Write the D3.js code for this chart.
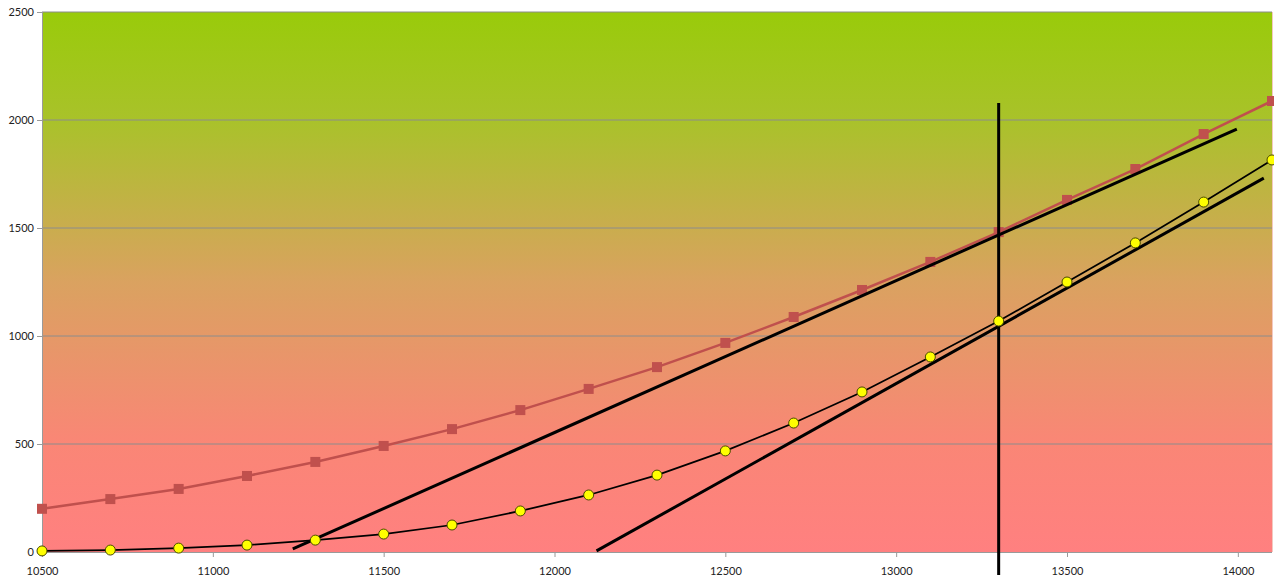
<!DOCTYPE html>
<html>
<head>
<meta charset="utf-8">
<script src="https://cdn.jsdelivr.net/npm/d3@7"></script>
<style>
  html, body { margin: 0; padding: 0; background: #fff; }
  svg text { font-family: Lato, "Open Sans", sans-serif; font-size: 11px; fill: #222; }
</style>
</head>
<body>
<svg id="chart" width="1274" height="581"></svg>
<script>
// Load levels (x) and the two measured series
const xValues = [10500, 10700, 10900, 11100, 11300, 11500, 11700, 11900, 12100, 12300,
                 12500, 12700, 12900, 13100, 13300, 13500, 13700, 13900, 14100];
const upperSeries = [200, 245, 292, 352, 417, 491, 569, 657, 755, 856,
                     968, 1088, 1213, 1343, 1481, 1630, 1773, 1935, 2088];
const lowerSeries = [5, 9, 18, 32, 55, 83, 125, 190, 264, 356,
                     468, 597, 741, 903, 1069, 1250, 1431, 1620, 1815];

// Straight guide lines: [x1, y1, x2, y2]
const tangentUpper = [11234, 14, 13997, 1958];
const tangentLower = [12123, 5, 14076, 1731];
const markerX = 13300;
const markerRange = [-106, 2079];

const xTicks = [10500, 11000, 11500, 12000, 12500, 13000, 13500, 14000];
const yTicks = [0, 500, 1000, 1500, 2000, 2500];

const svg = d3.select("#chart");
const m = { left: 42, top: 12, right: 1272, bottom: 552 };

const x = d3.scaleLinear().domain([10500, 14100]).range([m.left, m.right]);
const y = d3.scaleLinear().domain([0, 2500]).range([m.bottom, m.top]);

// Background gradient of the plot area
const defs = svg.append("defs");
const grad = defs.append("linearGradient").attr("id", "bg")
  .attr("x1", 0).attr("y1", 0).attr("x2", 0).attr("y2", 1);
[[0, "#99CB0A"], [0.2, "#A9C22A"], [0.5, "#DAA260"], [0.8, "#FA8676"], [1, "#FF8080"]]
  .forEach(([o, c]) => grad.append("stop").attr("offset", o).attr("stop-color", c));

svg.append("rect")
  .attr("x", m.left).attr("y", m.top)
  .attr("width", m.right - m.left).attr("height", m.bottom - m.top)
  .attr("fill", "url(#bg)");

// Horizontal gridlines
svg.append("g").selectAll("line").data(yTicks.filter(d => d > 0)).join("line")
  .attr("x1", m.left).attr("x2", m.right)
  .attr("y1", d => y(d)).attr("y2", d => y(d))
  .attr("stroke", "#8c8c8c").attr("stroke-width", 1);

// Right border of the plot area
svg.append("line")
  .attr("x1", m.right + 0.5).attr("x2", m.right + 0.5)
  .attr("y1", m.top).attr("y2", m.bottom)
  .attr("stroke", "#f3c8c0").attr("stroke-width", 1);

// Axes
const yAxis = d3.axisLeft(y).tickValues(yTicks).tickSize(5).tickPadding(3).tickFormat(d3.format("d"));
const gy = svg.append("g").attr("transform", `translate(${m.left},0)`).call(yAxis);
const xAxis = d3.axisBottom(x).tickValues(xTicks).tickSize(5).tickPadding(10).tickFormat(d3.format("d"));
const gx = svg.append("g").attr("transform", `translate(0,${m.bottom})`).call(xAxis);
[gx, gy].forEach(g => {
  g.selectAll(".domain").attr("stroke", "#9a9a9a");
  g.selectAll(".tick line").attr("stroke", "#9a9a9a");
  g.selectAll(".tick text").attr("fill", "#222").style("font-size", "11px");
});
gx.select(".domain").attr("d", `M${m.left},0.5H${m.right}`);
gy.select(".domain").attr("d", `M0.5,${m.top}V${m.bottom}`);

// Upper series (red squares)
const line = d3.line().x((d, i) => x(xValues[i])).y(d => y(d));
svg.append("path").datum(upperSeries)
  .attr("fill", "none").attr("stroke", "#C0504D").attr("stroke-width", 2.5)
  .attr("d", line);
svg.append("g").selectAll("rect").data(upperSeries).join("rect")
  .attr("x", (d, i) => x(xValues[i]) - 5).attr("y", d => y(d) - 5)
  .attr("width", 10).attr("height", 10)
  .attr("fill", "#C0504D");

// Lower series (yellow circles)
svg.append("path").datum(lowerSeries)
  .attr("fill", "none").attr("stroke", "#000").attr("stroke-width", 1.75)
  .attr("d", line);

// Guide lines
const guide = (a) => svg.append("line")
  .attr("x1", x(a[0])).attr("y1", y(a[1]))
  .attr("x2", x(a[2])).attr("y2", y(a[3]))
  .attr("stroke", "#000").attr("stroke-width", 3);
guide(tangentUpper);
guide(tangentLower);
svg.append("line")
  .attr("x1", x(markerX)).attr("x2", x(markerX))
  .attr("y1", y(markerRange[1])).attr("y2", y(markerRange[0]))
  .attr("stroke", "#000").attr("stroke-width", 3);

svg.append("g").selectAll("circle").data(lowerSeries).join("circle")
  .attr("cx", (d, i) => x(xValues[i])).attr("cy", d => y(d))
  .attr("r", 5)
  .attr("fill", "#FFFF00").attr("stroke", "#4a4a00").attr("stroke-width", 1);
</script>
</body>
</html>
